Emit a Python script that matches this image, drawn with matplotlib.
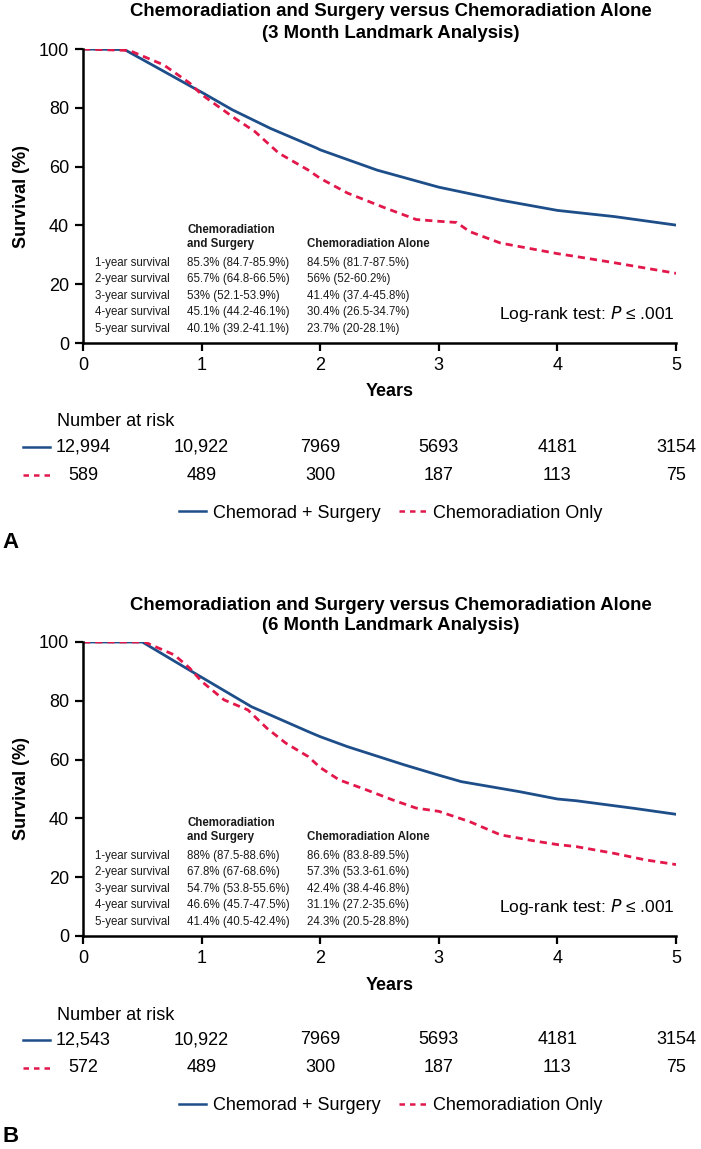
import matplotlib
matplotlib.use("Agg")
import matplotlib.pyplot as plt
from matplotlib.lines import Line2D

plt.rcParams['font.family'] = ['Liberation Sans', 'DejaVu Sans']

BLUE = '#1d4e89'
RED = '#e2174a'

# ---------------- data ----------------
year_ticks = [0, 1, 2, 3, 4, 5]
surv_ticks = [0, 20, 40, 60, 80, 100]

# panel A, 3 month landmark
a_surg_t = [0, 0.35, 0.61, 0.94, 1.0, 1.26, 1.58, 1.97, 2.0, 2.48, 3.0, 3.52, 4.0, 4.48, 5.0]
a_surg_s = [100, 99.8, 94.0, 86.6, 85.3, 79.3, 73.0, 66.3, 65.7, 58.8, 53.0, 48.6, 45.1, 43.0, 40.1]
a_chemo_t = [0, 0.39, 0.68, 0.9, 1.0, 1.26, 1.45, 1.65, 1.9, 2.0, 2.23, 2.55, 2.81, 3.0, 3.15,
             3.26, 3.52, 3.84, 4.0, 4.16, 4.48, 4.74, 5.0]
a_chemo_s = [100, 99.5, 94.6, 88.4, 84.5, 77.0, 71.9, 64.6, 58.8, 56.0, 51.0, 45.9, 42.0, 41.4, 41.0,
             37.9, 34.0, 31.6, 30.4, 29.4, 27.3, 25.5, 23.7]

# panel B, 6 month landmark
b_surg_t = [0, 0.5, 0.87, 1.0, 1.42, 1.9, 2.0, 2.23, 2.71, 3.0, 3.19, 3.68, 4.0, 4.16, 4.65, 5.0]
b_surg_s = [100, 100, 91.1, 88.0, 78.0, 69.5, 67.8, 64.4, 58.2, 54.7, 52.5, 49.1, 46.6, 46.0, 43.4, 41.4]
b_chemo_t = [0, 0.52, 0.77, 0.9, 1.0, 1.19, 1.39, 1.55, 1.71, 1.9, 2.0, 2.16, 2.39, 2.61, 2.81, 3.0,
             3.26, 3.52, 3.84, 4.0, 4.16, 4.48, 4.74, 5.0]
b_chemo_s = [100, 100, 95.6, 91.1, 86.6, 80.3, 76.9, 70.7, 65.6, 61.0, 57.3, 53.1, 49.7, 46.3, 43.5, 42.4,
             38.9, 34.4, 32.1, 31.1, 30.4, 28.1, 25.9, 24.3]

risk_a_surg = ['12,994', '10,922', '7969', '5693', '4181', '3154']
risk_a_chemo = ['589', '489', '300', '187', '113', '75']
risk_b_surg = ['12,543', '10,922', '7969', '5693', '4181', '3154']
risk_b_chemo = ['572', '489', '300', '187', '113', '75']

row_labels = ['1-year survival', '2-year survival', '3-year survival', '4-year survival', '5-year survival']
tab_a_surg = ['85.3% (84.7-85.9%)', '65.7% (64.8-66.5%)', '53% (52.1-53.9%)',
              '45.1% (44.2-46.1%)', '40.1% (39.2-41.1%)']
tab_a_chemo = ['84.5% (81.7-87.5%)', '56% (52-60.2%)', '41.4% (37.4-45.8%)',
               '30.4% (26.5-34.7%)', '23.7% (20-28.1%)']
tab_b_surg = ['88% (87.5-88.6%)', '67.8% (67-68.6%)', '54.7% (53.8-55.6%)',
              '46.6% (45.7-47.5%)', '41.4% (40.5-42.4%)']
tab_b_chemo = ['86.6% (83.8-89.5%)', '57.3% (53.3-61.6%)', '42.4% (38.4-46.8%)',
               '31.1% (27.2-35.6%)', '24.3% (20.5-28.8%)']

title_main = 'Chemoradiation and Surgery versus Chemoradiation Alone'
label_surg = 'Chemorad + Surgery'
label_chemo = 'Chemoradiation Only'

# ---------------- layout (pixels) ----------------
W, H = 701, 1149
X0, X1 = 83, 676          # x=0 and x=5
AX_H = 294                # 100 -> 0 in pixels

fig = plt.figure(figsize=(W / 100, H / 100), dpi=100)


def panel(top, subtitle, letter, surg_t, surg_s, chemo_t, chemo_s,
          tab_surg, tab_chemo, risk_surg, risk_chemo):
    bottom = top + AX_H
    ax = fig.add_axes([X0 / W, 1 - bottom / H, (X1 - X0) / W, AX_H / H])

    def fy(dy):  # pixel offset below the y=0 line -> axes fraction
        return -dy / AX_H

    def fx(xpx):
        return (xpx - X0) / (X1 - X0)

    ax.plot(surg_t, surg_s, color=BLUE, lw=2.0, solid_joinstyle='round')
    ax.plot(chemo_t, chemo_s, color=RED, lw=2.0, dashes=(2.6, 1.8))

    ax.set_xlim(0, 5)
    ax.set_ylim(0, 100)
    ax.set_xticks(year_ticks)
    ax.set_yticks(surv_ticks)
    for s in ['top', 'right']:
        ax.spines[s].set_visible(False)
    for s in ['left', 'bottom']:
        ax.spines[s].set_linewidth(1.8)
    ax.tick_params(direction='out', length=6, width=1.6, labelsize=13, pad=4)

    ax.text(fx(22), 0.5, 'Survival (%)', rotation=90, ha='center', va='center',
            fontsize=13, fontweight='bold', transform=ax.transAxes)
    ax.text(fx(390), fy(49), 'Years', ha='center', va='center',
            fontsize=13, fontweight='bold', transform=ax.transAxes)

    # titles
    ax.text(fx(391), 1 + 37 / AX_H, title_main, ha='center', va='center', fontsize=13.4,
            fontweight='bold', transform=ax.transAxes)
    ax.text(fx(391), 1 + 16 / AX_H, subtitle, ha='center', va='center', fontsize=13.4,
            fontweight='bold', transform=ax.transAxes)

    # survival table inside the plot
    tc = '#1a1a1a'
    ax.text(0.88, 38.4, 'Chemoradiation', fontsize=8.3, fontweight='bold', va='center', color=tc)
    ax.text(0.88, 33.7, 'and Surgery', fontsize=8.3, fontweight='bold', va='center', color=tc)
    ax.text(1.89, 33.7, 'Chemoradiation Alone', fontsize=8.3, fontweight='bold', va='center', color=tc)
    for i, lab in enumerate(row_labels):
        yv = 27.2 - 5.6 * i
        ax.text(0.10, yv, lab, fontsize=8.3, va='center', color=tc)
        ax.text(0.88, yv, tab_surg[i], fontsize=8.3, va='center', color=tc)
        ax.text(1.89, yv, tab_chemo[i], fontsize=8.3, va='center', color=tc)

    ax.text(4.99, 9.7, 'Log-rank test: $\\it{P}$ \u2264 .001', ha='right', va='center', fontsize=12.5)

    # number at risk
    xt = ax.get_xaxis_transform()
    ax.text(fx(57), fy(79), 'Number at risk', fontsize=13, va='center', transform=ax.transAxes)
    for i, yr in enumerate(year_ticks):
        ax.text(yr, fy(104), risk_surg[i], ha='center', va='center', fontsize=13,
                transform=xt, clip_on=False)
        ax.text(yr, fy(132), risk_chemo[i], ha='center', va='center', fontsize=13,
                transform=xt, clip_on=False)
    ax.add_line(Line2D([fx(23), fx(50)], [fy(104), fy(104)], color=BLUE, lw=1.8,
                       transform=ax.transAxes, clip_on=False))
    ax.add_line(Line2D([fx(23), fx(50)], [fy(132), fy(132)], color=RED, lw=1.8,
                       dashes=(2.2, 2.0), transform=ax.transAxes, clip_on=False))

    handles = [Line2D([], [], color=BLUE, lw=1.8),
               Line2D([], [], color=RED, lw=1.8, dashes=(2.2, 2.0))]
    ax.legend(handles, [label_surg, label_chemo], ncol=2, frameon=False, fontsize=13,
              loc='center', bbox_to_anchor=(fx(391), fy(170)), handlelength=1.5,
              handletextpad=0.4, columnspacing=1.0, borderaxespad=0, borderpad=0)

    ax.text(fx(2), fy(200), letter, fontsize=16, fontweight='bold', va='center', ha='left',
            transform=ax.transAxes)
    return ax


panel(49, '(3 Month Landmark Analysis)', 'A', a_surg_t, a_surg_s, a_chemo_t, a_chemo_s,
      tab_a_surg, tab_a_chemo, risk_a_surg, risk_a_chemo)
panel(642, '(6 Month Landmark Analysis)', 'B', b_surg_t, b_surg_s, b_chemo_t, b_chemo_s,
      tab_b_surg, tab_b_chemo, risk_b_surg, risk_b_chemo)

fig.savefig('out.png', dpi=100)
